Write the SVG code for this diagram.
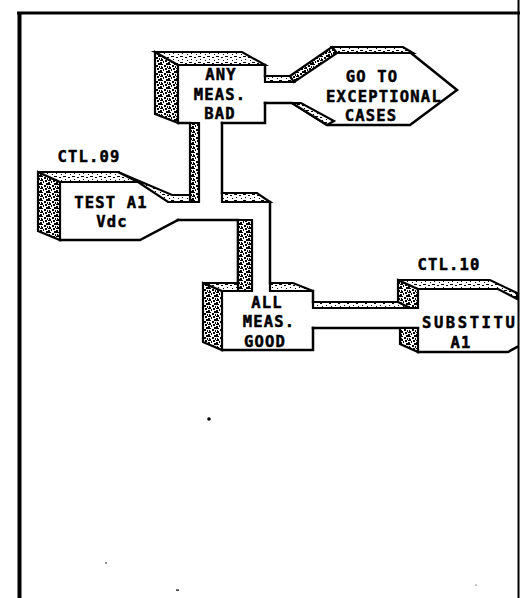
<svg xmlns="http://www.w3.org/2000/svg" width="523" height="598" viewBox="0 0 523 598">
<defs>
  <pattern id="pd" width="8" height="8" patternUnits="userSpaceOnUse">
    <rect width="8" height="8" fill="#fff"/>
    <path d="M0 0h3v1H0zM4 1h2v2H4zM6 0h2v1H6zM1 2h1v2H1zM0 4h3v1H0zM5 4h2v2H5zM3 5h1v2H3zM0 6h2v2H0zM6 7h2v1H6zM2 3h1v1H2zM7 2h1v2H7z" fill="#000"/>
  </pattern>
  <pattern id="pl" width="9" height="6" patternUnits="userSpaceOnUse">
    <rect width="9" height="6" fill="#fff"/>
    <path d="M0 2h3v1H0zM5 3h2v1H5zM2 5h1v1H2zM7 0h1v1H7z" fill="#000"/>
  </pattern>
  <style>
    .ln{fill:none;stroke:#000;stroke-width:2.5;stroke-linejoin:miter;stroke-linecap:square}
    .sd{fill:url(#pd);stroke:#000;stroke-width:2.2;stroke-linejoin:miter}
    .sl{fill:url(#pl);stroke:#000;stroke-width:2.2;stroke-linejoin:miter}
    .t{font-family:"DejaVu Sans Mono","Liberation Mono",monospace;font-weight:bold;font-size:15.5px;letter-spacing:1.2px;fill:#000;stroke:#000;stroke-width:0.5;text-anchor:middle}
    .fr{stroke:#000;fill:none}
  </style>
</defs>
<rect width="523" height="598" fill="#fff"/>

<g id="frame">
  <line class="fr" x1="17" y1="13" x2="520" y2="13" stroke-width="3"/>
  <line class="fr" x1="19.5" y1="12" x2="19.5" y2="598" stroke-width="4"/>
  <line class="fr" x1="518.5" y1="0" x2="518.5" y2="598" stroke-width="2"/>
</g>

<g id="connectors">
  <!-- ANY -> GO TO -->
  <polygon class="sl" points="265,76 290,76 294,82 265,82"/>
  <!-- ANY down to junction -->
  <polygon class="sd" points="190,123 199,123 199,202 190,202"/>
  <line class="ln" x1="222" y1="123" x2="222" y2="193"/>
  <!-- TEST -> junction -> ALL -->
  <polygon class="sl" points="118,172 172,195 190,195 190,202 168,202 138,182"/>
  <polygon class="sl" points="222,193 257,193 270,202 222,202"/>
  <polyline class="ln" points="178,220 238,220 238,283"/>
  <polygon class="sd" points="238,220 252,220 252,291 238,291"/>
  <line class="ln" x1="270" y1="202" x2="270" y2="283"/>
  <!-- ALL -> SUBSTITUTE -->
  <polygon class="sl" points="313,302 399,302 410,308 313,308"/>
  <line class="ln" x1="313" y1="328" x2="418" y2="328"/>
</g>

<g id="node-any">
  <polygon class="sd" points="155,52 178,65 178,123 155,114"/>
  <polygon class="sl" points="155,52 242,52 265,65 178,65"/>
  <polyline class="ln" points="265,65 265,76"/>
  <polyline class="ln" points="265,103 265,123 222,123"/>
  <polyline class="ln" points="190,123 178,123"/>
  <text class="t" x="221" y="80">ANY</text>
  <text class="t" x="220" y="100">MEAS.</text>
  <text class="t" x="220" y="119">BAD</text>
</g>

<g id="node-goto">
  <polygon class="sd" points="290,76 332,47 337,53 294,82"/>
  <polygon class="sl" points="332,47 403,47 413,53 337,53"/>
  <polyline class="ln" points="411,53 457,90 410,125 327,125 292,103 265,103"/>
  <polygon class="sl" points="292,103 301,103 334,121 327,125"/>
  <text class="t" x="372" y="82">GO TO</text>
  <text class="t" x="384" y="101.5">EXCEPTIONAL</text>
  <text class="t" x="371" y="120.5">CASES</text>
</g>

<g id="node-test">
  <text class="t" x="89" y="162">CTL.09</text>
  <polygon class="sd" points="38,172 60,182 60,240 38,231"/>
  <polygon class="sl" points="38,172 118,172 138,182 60,182"/>
  <polyline class="ln" points="60,240 140,240 178,220"/>
  <text class="t" x="111" y="208">TEST A1</text>
  <text class="t" x="112" y="227">Vdc</text>
</g>

<g id="node-all">
  <polygon class="sd" points="203,283 222,291 222,350 203,342"/>
  <polygon class="sl" points="203,283 238,283 238,291 222,291"/>
  <polygon class="sl" points="270,283 293,283 313,291 270,291"/>
  <polyline class="ln" points="313,291 313,302"/>
  <polyline class="ln" points="313,328 313,350 222,350"/>
  <text class="t" x="267" y="308">ALL</text>
  <text class="t" x="269" y="327">MEAS.</text>
  <text class="t" x="265" y="347">GOOD</text>
</g>

<g id="node-subst">
  <text class="t" x="449" y="270">CTL.10</text>
  <polygon class="sd" points="398,280 418,289 418,308 410,308 398,302"/>
  <polygon class="sd" points="400,328 418,328 418,352 400,344"/>
  <polygon class="sl" points="398,280 490,280 517,293 517,299 498,289 418,289"/>
  <polyline class="ln" points="418,352 508,352 517,347"/>
  <text class="t" x="422" y="328" style="text-anchor:start" textLength="94" lengthAdjust="spacing">SUBSTITU</text>
  <text class="t" x="461" y="348">A1</text>
</g>

<g id="specks" fill="#000">
  <circle cx="209" cy="419" r="1.8"/>
  <circle cx="106" cy="563" r="0.8"/>
  <rect x="176" y="589.5" width="3" height="1.2"/>
  <circle cx="476" cy="585" r="0.6"/>
</g>
</svg>
